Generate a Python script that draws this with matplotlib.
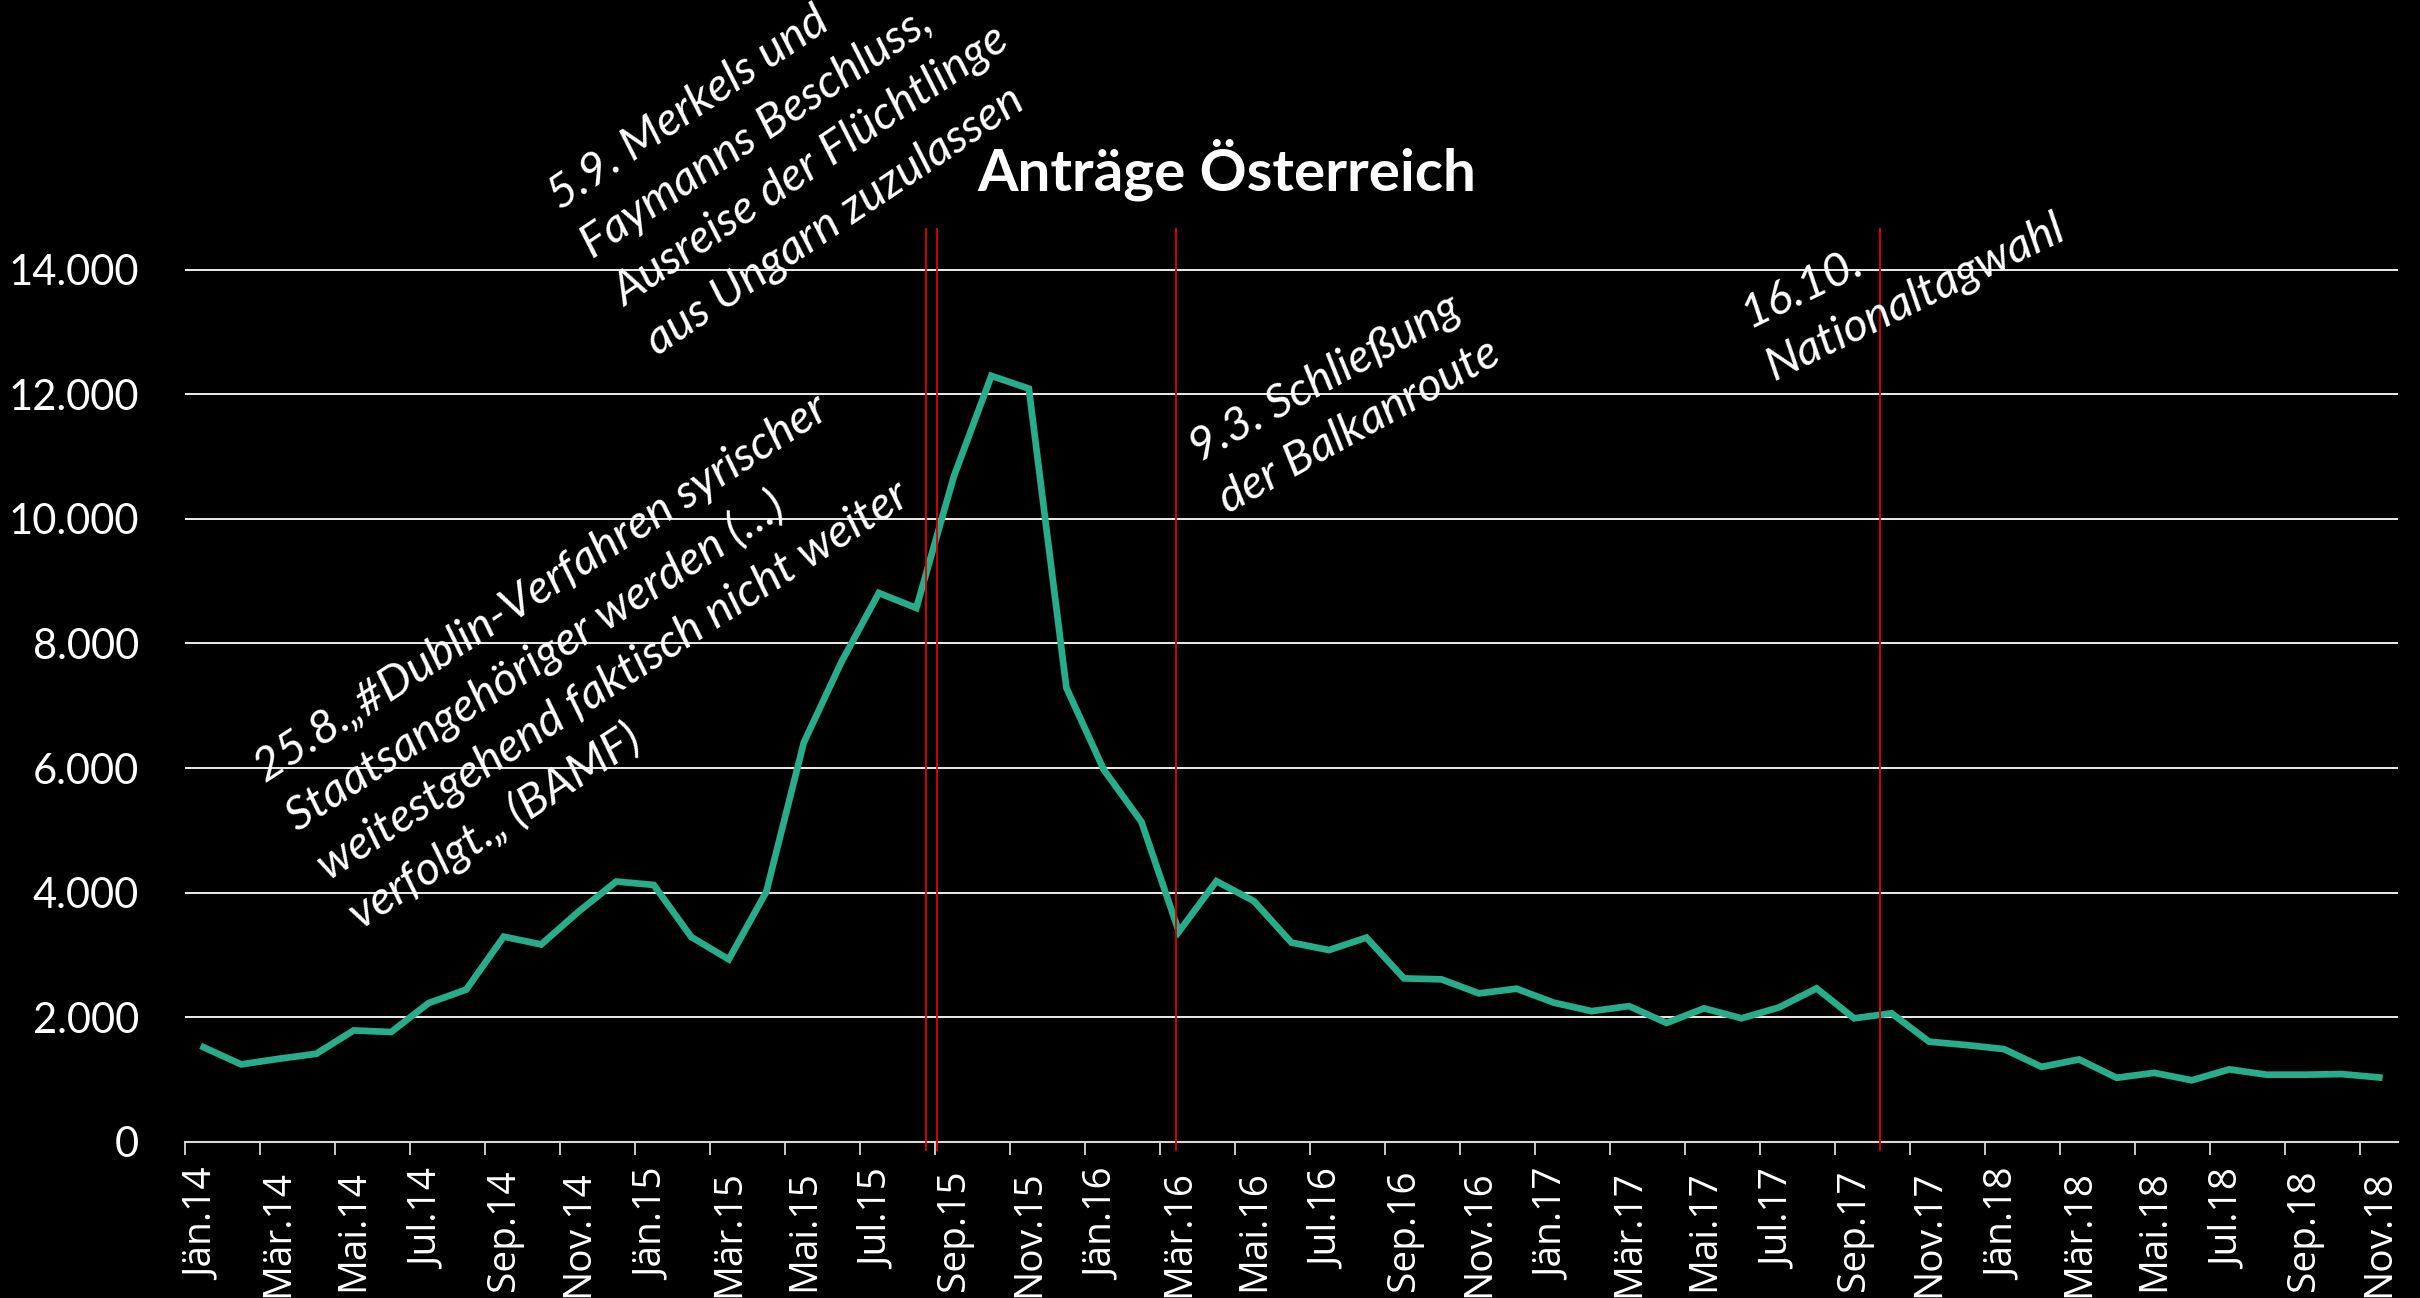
import numpy as np
import matplotlib.pyplot as plt

# monthly asylum applications Austria, Jan 2014 - Nov 2018
months = ['Jän', 'Feb', 'Mär', 'Apr', 'Mai', 'Jun', 'Jul', 'Aug', 'Sep', 'Okt', 'Nov', 'Dez']
labels = [f'{m}.{y}' for y in range(14, 19) for m in months][:59]

antraege = [1520, 1245, 1335, 1415, 1790, 1765, 2230, 2445, 3295, 3170,
            3700, 4180, 4125, 3290, 2930, 4015, 6410, 7700, 8810, 8570,
            10680, 12295, 12090, 7290, 5970, 5140, 3375, 4185, 3865, 3200,
            3080, 3280, 2625, 2610, 2385, 2460, 2235, 2100, 2180, 1910,
            2145, 1985, 2160, 2465, 1985, 2065, 1610, 1555, 1490, 1205,
            1325, 1030, 1110, 990, 1165, 1080, 1080, 1090, 1035]

# event markers (position in months from Jän.14)
events = [19.25, 19.55, 25.93, 44.69]

notes = [
    (['5.9. Merkels und', 'Faymanns Beschluss,', 'Ausreise der Flüchtlinge',
      'aus Ungarn zuzulassen'], 9.5, 14940, 34),
    (['25.8.„#Dublin-Verfahren syrischer', 'Staatsangehöriger werden (…)',
      'weitestgehend faktisch nicht weiter', 'verfolgt.„ (BAMF)'], 1.65, 5750, 33),
    (['9.3. Schließung', 'der Balkanroute'], 26.55, 10900, 29),
    (['16.10.', 'Nationaltagwahl'], 41.2, 13060, 26),
]

fig = plt.figure(figsize=(24.2, 12.98), dpi=100, facecolor='black')
ax = fig.add_axes([0.0764, 0.1202, 0.9145, 0.7057], facecolor='black')

x = np.arange(len(antraege))
ax.plot(x, antraege, color='#27AD89', lw=4.8, solid_joinstyle='miter', zorder=3)
ax.vlines(events, -150, 14670, colors='#E00000', lw=1.3, clip_on=False, zorder=4)

ax.set_xlim(-0.5, 58.5)
ax.set_ylim(0, 14700)

ax.set_yticks(range(0, 14001, 2000))
ax.set_yticklabels([f'{v:,}'.replace(',', '.') for v in range(0, 14001, 2000)],
                   fontsize=30, family='Lato', color='white')
ax.tick_params(axis='y', length=0, pad=33)
ax.yaxis.grid(True, color='white', lw=1.3)

ax.set_xticks(np.arange(-0.5, 58, 2))
ax.set_xticks(x[::2], minor=True)
ax.set_xticklabels(labels[::2], minor=True, rotation=90, fontsize=28,
                   family='Open Sans', color='white', va='top')
ax.tick_params(axis='x', which='major', length=9, width=1.3, color='#D9D9D9',
               labelbottom=False)
ax.tick_params(axis='x', which='minor', length=0, pad=20)

for s in ['top', 'right', 'left']:
    ax.spines[s].set_visible(False)
ax.spines['bottom'].set_color('#D9D9D9')
ax.spines['bottom'].set_linewidth(1.5)

# rotated multi-line notes, one line at a time
L = 42
for lines, nx, ny, ang in notes:
    a = np.radians(ang)
    for k, txt in enumerate(lines):
        ax.annotate(txt, xy=(nx, ny), xytext=(k * L * np.sin(a), -k * L * np.cos(a)),
                    textcoords='offset points', rotation=ang, rotation_mode='anchor',
                    ha='left', va='baseline', fontsize=34, style='italic',
                    family='Lato', color='white', annotation_clip=False, zorder=5)

fig.text(1227 / 2420, 1 - 170 / 1298, 'Anträge Österreich', ha='center', va='center',
         fontsize=42, weight='bold', family='Lato', color='white')

fig.savefig('out.png', dpi=100, facecolor='black')
